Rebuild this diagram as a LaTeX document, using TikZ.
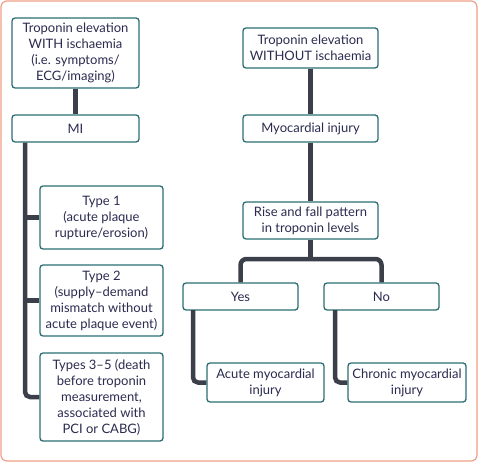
\documentclass[tikz,border=0pt]{standalone}
\usepackage{fontspec}
\setmainfont{Lato}
\definecolor{framec}{HTML}{EE9E86}
\definecolor{boxc}{HTML}{2A6E73}
\definecolor{txtc}{HTML}{2B2B50}
\definecolor{connc}{HTML}{3A3F4A}
\tikzset{
  box/.style={draw=boxc, line width=1.3pt, rounded corners=3pt, fill=white,
    align=center, text=txtc, inner sep=0pt,
    font=\fontsize{13}{16}\selectfont},
  conn/.style={draw=connc, line width=4.5pt},
}
\begin{document}
\begin{tikzpicture}[x=1pt,y=-1pt]
\useasboundingbox (0,0) rectangle (478,462);
\draw[framec, line width=1.2pt, rounded corners=6pt] (1,1) rectangle (477,461);
% left
\node[box, minimum width=127pt, minimum height=70pt] (a) at (75.5,53) {Troponin elevation\\WITH ischaemia\\(i.e. symptoms/\\ECG/imaging)};
\node[box, minimum width=127pt, minimum height=27pt] (mi) at (75.5,128.5) {MI};
\node[box, minimum width=123pt, minimum height=63pt] (t1) at (101.5,217.5) {Type 1\\(acute plaque\\rupture/erosion)};
\node[box, minimum width=123pt, minimum height=71pt] (t2) at (101.5,300.5) {Type 2\\(supply--demand\\mismatch without\\acute plaque event)};
\node[box, minimum width=123pt, minimum height=88pt] (t35) at (101.5,397) {Types 3--5 (death\\before troponin\\measurement,\\associated with\\PCI or CABG)};
% right
\node[box, minimum width=135pt, minimum height=40pt] (b) at (310.5,48) {Troponin elevation\\WITHOUT ischaemia};
\node[box, minimum width=135pt, minimum height=27pt] (inj) at (310.5,128.5) {Myocardial injury};
\node[box, minimum width=135pt, minimum height=37pt] (rise) at (310.5,220.5) {Rise and fall pattern\\in troponin levels};
\node[box, minimum width=115pt, minimum height=27pt] (yes) at (240.5,296.5) {Yes};
\node[box, minimum width=115pt, minimum height=27pt] (no) at (381.5,296.5) {No};
\node[box, minimum width=117pt, minimum height=39pt] (acute) at (265.5,382.5) {Acute myocardial\\injury};
\node[box, minimum width=118pt, minimum height=39pt] (chronic) at (407,382.5) {Chronic myocardial\\injury};
% connectors
\coordinate (trunk) at (25,142);
\coordinate (split) at (310.5,259);
\coordinate (ya) at (193,310);
\coordinate (nc) at (335,310);
\draw[conn] (a) -- (mi);
\draw[conn, rounded corners=5pt] (mi.south -| trunk) |- (t35.west);
\draw[conn] (t1.west) -- (t1.west -| trunk);
\draw[conn] (t2.west) -- (t2.west -| trunk);
\draw[conn] (b) -- (inj);
\draw[conn] (inj) -- (rise);
\draw[conn] (rise.south) -- (split);
\draw[conn, rounded corners=6pt] (yes.north) |- (split) -| (no.north);
\draw[conn, rounded corners=5pt] (ya) |- (acute.west);
\draw[conn, rounded corners=5pt] (nc) |- (chronic.west);
\end{tikzpicture}
\end{document}
